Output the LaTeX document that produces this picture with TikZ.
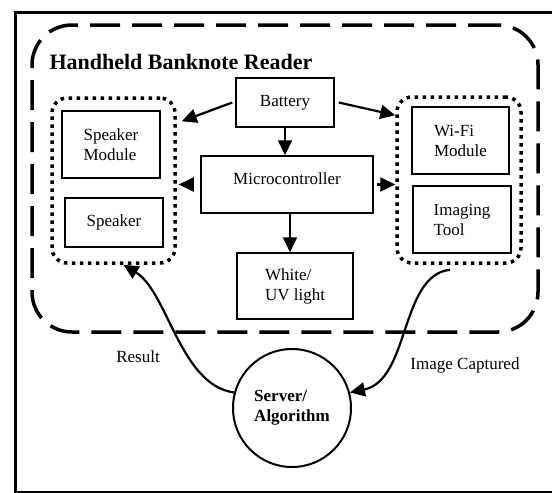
\documentclass[tikz,border=0pt]{standalone}
\usepackage{fontspec}
\setmainfont{Liberation Serif}
\usetikzlibrary{arrows.meta,calc}

\tikzset{
  blk/.style={draw, line width=1.5pt, inner sep=0pt, align=left},
  grp/.style={draw, line width=3.5pt, rounded corners=15pt, dash pattern=on 3.5pt off 4.5pt, inner sep=0pt},
  arr/.style={line width=2.2pt, -{Triangle[length=15pt,width=14pt]}}
}

\begin{document}
\begin{tikzpicture}[x=1pt,y=-1pt,font=\fontsize{17}{20}\selectfont]
            \path[use as bounding box, clip] (0,0) rectangle (552,493);
            % outer frame (right side is cut off)
            \draw[line width=3pt] (570,12) -- (15,12) -- (15,492) -- (570,492);
            % reader outline
            \node[draw, line width=3.5pt, dash pattern=on 30pt off 12pt, rounded corners=40pt,
                  minimum width=506pt, minimum height=307pt, inner sep=0pt] (reader) at (285,178.5) {};
            \node[anchor=west, font=\fontsize{22}{25}\selectfont\bfseries] (title) at (46,62) {Handheld Banknote Reader};
            % groups
            \node[grp, minimum width=123pt, minimum height=165pt] (spkgrp) at (113.5,180.5) {};
            \node[grp, minimum width=124pt, minimum height=166pt] (camgrp) at (459,180) {};
            % blocks
            \node[blk, minimum width=98pt, minimum height=67pt] (spkmod) at (111,144.5) {Speaker\\Module};
            \node[blk, minimum width=98pt, minimum height=49pt] (spk) at (114,222.5) {Speaker};
            \node[blk, minimum width=98pt, minimum height=49pt] (bat) at (285,102.5) {Battery};
            \node[blk, minimum width=172pt, minimum height=57pt, text depth=12pt] (mcu) at (287,184.5) {Microcontroller};
            \node[blk, minimum width=116pt, minimum height=66pt] (wuv) at (295,286) {White/\\UV light};
            \node[blk, minimum width=97pt, minimum height=67pt] (wifi) at (460.5,140.5) {Wi-Fi\\Module};
            \node[blk, minimum width=98pt, minimum height=67pt] (img) at (462,219.5) {Imaging\\Tool};
            \node[draw, circle, line width=2pt, minimum size=118pt, inner sep=0pt, align=left,
                  font=\fontsize{17}{20}\selectfont\bfseries] (srv) at (292,408) {Server/\\Algorithm};
            % arrows
            \draw[arr] ([xshift=-3pt]bat.west) -- ([shift={(5,25)}]spkgrp.north east);
            \draw[arr] ([xshift=4pt]bat.east) -- ([shift={(0,20)}]camgrp.north west);
            \draw[arr] (bat.south) -- (bat.south |- mcu.north);
            \draw[arr] ([xshift=-6pt]mcu.west) -- ([xshift=2pt]mcu.west -| spkgrp.east);
            \draw[arr] ([xshift=3pt]mcu.east) -- (mcu.east -| camgrp.west);
            \draw[arr] ([xshift=3pt]mcu.south) -- ([xshift=3pt]mcu.south |- wuv.north);
            % server loop
            \draw[arr] (srv.165) .. controls (180,385) and (168,292) .. ([shift={(10,0)}]spkgrp.south);
            \draw[arr] ([shift={(-9,5)}]camgrp.south) .. controls (400,275) and (410,380) .. (srv.15);
            \node (res) at (138,357) {Result};
            \node (cap) at (465,365) {Image Captured};
\end{tikzpicture}
\end{document}
